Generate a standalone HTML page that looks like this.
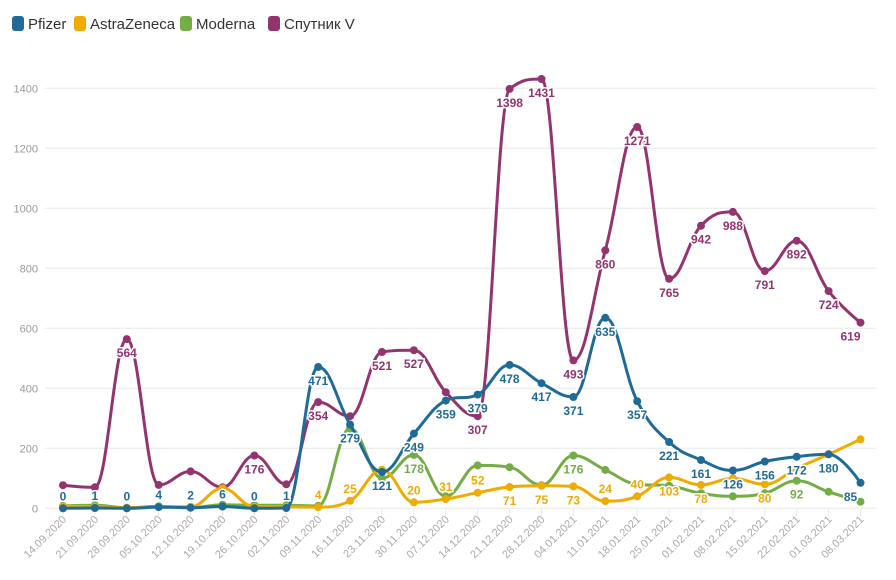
<!DOCTYPE html>
<html><head><meta charset="utf-8"><style>
body{margin:0;background:#fff;width:896px;height:575px;overflow:hidden;font-family:"Liberation Sans","DejaVu Sans",sans-serif}
</style></head><body>
<svg id="c" width="896" height="575" xmlns="http://www.w3.org/2000/svg" font-family="Liberation Sans, DejaVu Sans, sans-serif"></svg>
<script>
const svg=document.getElementById('c');let h='';
const X=i=>63+i*31.9, Y=v=>508.3-v*0.3;
for(let v=0;v<=1400;v+=200){const y=Y(v);h+=`<line x1="45" x2="876" y1="${y}" y2="${y}" stroke="#e8e8e8"/>`;h+=`<text x="38" y="${y+4}" text-anchor="end" font-size="11" fill="#999">${v}</text>`;}
const dates=["14.09.2020","21.09.2020","28.09.2020","05.10.2020","12.10.2020","19.10.2020","26.10.2020","02.11.2020","09.11.2020","16.11.2020","23.11.2020","30.11.2020","07.12.2020","14.12.2020","21.12.2020","28.12.2020","04.01.2021","11.01.2021","18.01.2021","25.01.2021","01.02.2021","08.02.2021","15.02.2021","22.02.2021","01.03.2021","08.03.2021"];
dates.forEach((d,i)=>{const x=X(i);h+=`<line x1="${x}" x2="${x}" y1="509" y2="516" stroke="#e8e8e8"/>`;h+=`<text transform="translate(${x+4},520) rotate(-45)" text-anchor="end" font-size="11" fill="#aaa">${d}</text>`;});
function path(d){
  const p=d.map((v,i)=>({x:X(i),y:Y(v)}));
  const sm=1.5,den=2.5;
  p.forEach((pt,i)=>{
    const L=p[i-1],R=p[i+1];
    if(L&&R){
      let lx=(sm*pt.x+L.x)/den,ly=(sm*pt.y+L.y)/den,rx=(sm*pt.x+R.x)/den,ry=(sm*pt.y+R.y)/den;
      if(rx!==lx){const c=((ry-ly)*(rx-pt.x))/(rx-lx)+pt.y-ry;ly+=c;ry+=c;}
      if(ly>L.y&&ly>pt.y){ly=Math.max(L.y,pt.y);ry=2*pt.y-ly;}else if(ly<L.y&&ly<pt.y){ly=Math.min(L.y,pt.y);ry=2*pt.y-ly;}
      if(ry>R.y&&ry>pt.y){ry=Math.max(R.y,pt.y);ly=2*pt.y-ry;}else if(ry<R.y&&ry<pt.y){ry=Math.min(R.y,pt.y);ly=2*pt.y-ry;}
      pt.lx=lx;pt.ly=ly;pt.rx=rx;pt.ry=ry;
    }else{pt.lx=pt.rx=pt.x;pt.ly=pt.ry=pt.y;}
  });
  let s=`M${p[0].x},${p[0].y}`;
  for(let i=1;i<p.length;i++)s+=` C${p[i-1].rx},${p[i-1].ry} ${p[i].lx},${p[i].ly} ${p[i].x},${p[i].y}`;
  return s;
}
const S={
mod:["#74ac46",[8,10,2,7,2,12,10,10,8,266,100,178,40,143,137,77,176,128,80,75,50,40,50,92,55,22]],
az:["#f0ab00",[7,5,2,5,5,67,5,5,4,25,128,20,31,52,71,75,73,24,40,103,78,100,80,133,180,230]],
pf:["#1f6b98",[0,1,0,4,2,6,0,1,471,279,121,249,359,379,478,417,371,635,357,221,161,126,156,172,180,85]],
sp:["#93336f",[77,70,564,78,123,70,176,80,354,307,521,527,387,307,1398,1431,493,860,1271,765,942,988,791,892,724,619]]};
for(const k of ["sp","mod","az","pf"]){const [c,d]=S[k];h+=`<path d="${path(d)}" fill="none" stroke="${c}" stroke-width="3"/>`;d.forEach((v,i)=>h+=`<circle cx="${X(i)}" cy="${Y(v)}" r="4" fill="${c}"/>`);}
// labels: [seriesKey, index, dy]
const A=-8,B=18;
const labs=[];
[0,1,2,3,4,5,6,7].forEach(i=>labs.push(["pf",i,A]));
for(let i=8;i<26;i++)labs.push(["pf",i,B]);
[2,6,8,10,11,13,14,15,16,17,18,19,20,21,22,23,24,25].forEach(i=>labs.push(["sp",i,B]));
[[8,A],[9,A],[11,A],[12,A],[13,A],[14,B],[15,B],[16,B],[17,A],[18,A],[19,B],[20,B],[22,B]].forEach(([i,d])=>labs.push(["az",i,d]));
[11,16,23].forEach(i=>labs.push(["mod",i,B]));
for(const [k,i,dy] of labs){const [c,d]=S[k];let x=X(i);if(i===25)x-=10;h+=`<text x="${x}" y="${Y(d[i])+dy}" text-anchor="middle" font-size="12" font-weight="bold" fill="${c}" stroke="#fff" stroke-width="3" paint-order="stroke">${d[i]}</text>`;}
const lg=[["#1f6b98","Pfizer",12],["#f0ab00","AstraZeneca",74],["#74ac46","Moderna",180],["#93336f","Спутник V",268]];
lg.forEach(([c,t,x])=>{h+=`<rect x="${x}" y="16" width="12" height="15" rx="3" fill="${c}"/><text x="${x+16}" y="29" font-size="15" fill="#333">${t}</text>`;});
svg.innerHTML=h;
</script>
</body></html>
